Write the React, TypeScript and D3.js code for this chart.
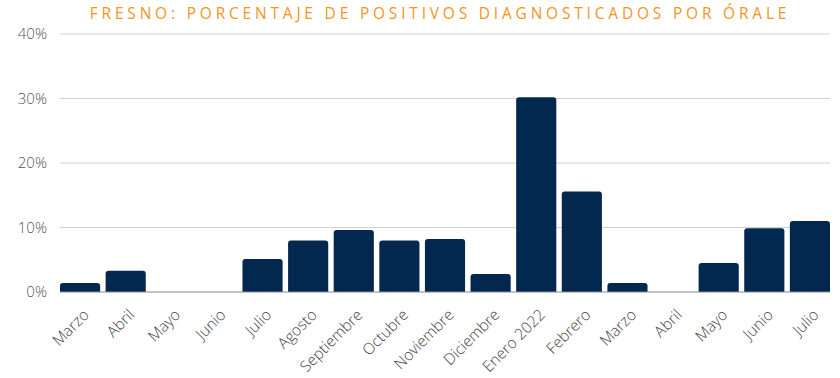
import React from "react";
import * as d3 from "d3";

const categories = ["Marzo","Abril","Mayo","Junio","Julio","Agosto","Septiembre","Octubre","Noviembre","Diciembre","Enero 2022","Febrero","Marzo","Abril","Mayo","Junio","Julio"];
const values = [1.4, 3.3, 0, 0, 5.1, 8.0, 9.6, 8.0, 8.2, 2.8, 30.2, 15.6, 1.4, 0, 4.5, 9.9, 11.0];
const yTicks = [0, 10, 20, 30, 40];
const title = "FRESNO: PORCENTAJE DE POSITIVOS DIAGNOSTICADOS POR ÓRALE";

const W = 840, H = 378;
const left = 60, right = 830, top = 34, bottom = 292;

export default function App() {
  const x = d3.scaleBand<number>().domain(d3.range(categories.length)).range([left, right]).paddingInner(0.12).paddingOuter(0);
  const y = d3.scaleLinear().domain([0, 40]).range([bottom, top]);
  const bw = x.bandwidth();
  const r = 3;
  const barPath = (i: number, v: number) => {
    const x0 = x(i)!, y0 = y(v), h = bottom - y0;
    if (h <= 0) return "";
    const rr = Math.min(r, h);
    return `M${x0},${bottom}V${y0 + rr}Q${x0},${y0} ${x0 + rr},${y0}H${x0 + bw - rr}Q${x0 + bw},${y0} ${x0 + bw},${y0 + rr}V${bottom}Z`;
  };
  return (
    <svg width={W} height={H} style={{ position: "absolute", left: 0, top: 0, fontFamily: "'Open Sans', sans-serif" }}>
      <rect width={W} height={H} fill="#fff" />
      <text x={440} y={19} textAnchor="middle" fill="#f7941d" fontSize={15.5} letterSpacing={3.8} fontFamily="'Open Sans', sans-serif">{title}</text>
      {yTicks.map(t => (
        <g key={t}>
          {t !== 0 && <line x1={left} x2={right} y1={y(t)} y2={y(t)} stroke="#d0d0d0" strokeWidth={1} />}
          <text x={47} y={y(t)} dy="0.35em" textAnchor="end" fill="#555" fontSize={15} fontWeight={300}>{t}%</text>
        </g>
      ))}
      {values.map((v, i) => (
        <path key={i} d={barPath(i, v)} fill="#022850" />
      ))}
      <line x1={left} x2={right} y1={bottom} y2={bottom} stroke="#888" strokeWidth={1} />
      {categories.map((c, i) => {
        const cx = x(i)! + bw / 2 + 6;
        return (
          <text key={i} transform={`translate(${cx},${312}) rotate(-45)`} textAnchor="end" dy="0.35em" fill="#444" fontSize={15.5} fontWeight={300}>{c}</text>
        );
      })}
    </svg>
  );
}
